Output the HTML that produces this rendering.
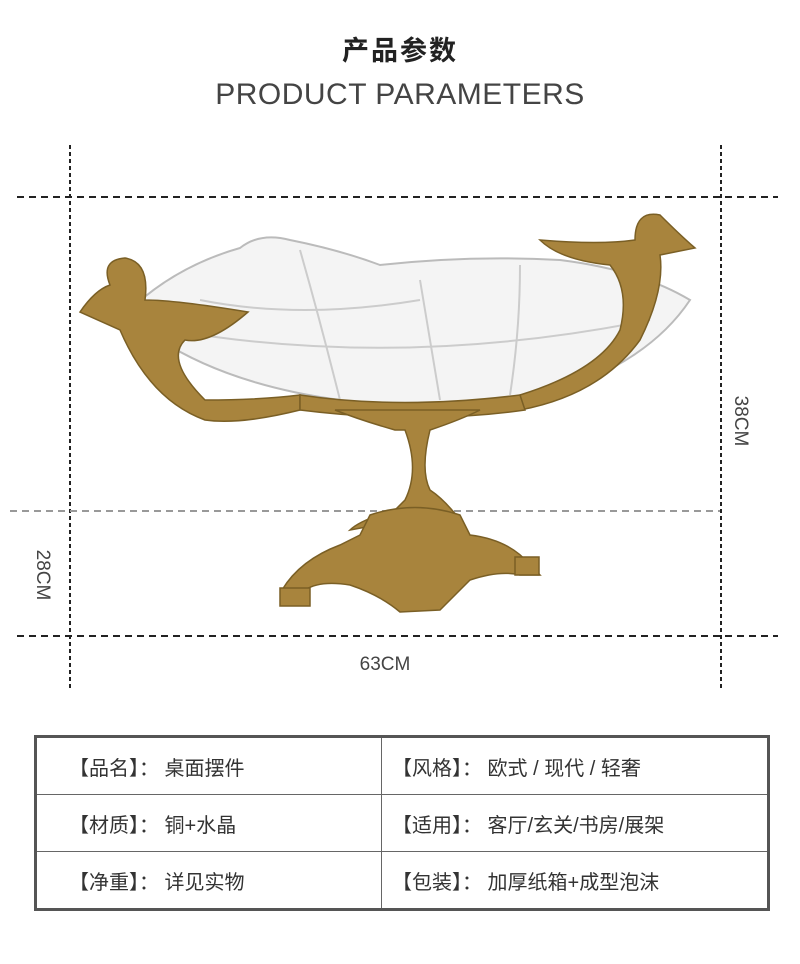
<!DOCTYPE html>
<html><head><meta charset="utf-8"><style>
body{margin:0;width:800px;height:964px;background:#fff;position:relative;overflow:hidden;font-family:"Liberation Sans","Noto Sans CJK SC",sans-serif;}
.t1{position:absolute;top:29px;left:0;width:800px;text-align:center;font-size:27px;font-weight:bold;color:#222;letter-spacing:2px}
.t2{position:absolute;top:78px;left:0;width:800px;text-align:center;font-size:30px;color:#444;letter-spacing:0.5px}
table{position:absolute;left:34px;top:735px;width:736px;height:176px;border-collapse:collapse;border:3px solid #555;table-layout:fixed}
tr{height:57px}
td{border:1.5px solid #666;font-size:20px;color:#333;padding:6px 0 0 32px;height:48px;line-height:48px}
td+td{padding-left:10px}
</style></head><body>
<div class="t1">产品参数</div>
<div class="t2">PRODUCT PARAMETERS</div>
<svg width="800" height="964" style="position:absolute;left:0;top:0">
<g stroke="#222" stroke-width="2" stroke-dasharray="4,3">
<line x1="70" y1="145" x2="70" y2="690"/><line x1="721" y1="145" x2="721" y2="690"/>
</g>
<g stroke="#222" stroke-width="2" stroke-dasharray="7,5">
<line x1="17" y1="197" x2="778" y2="197"/><line x1="17" y1="636" x2="778" y2="636"/>
</g>
<line x1="10" y1="511" x2="720" y2="511" stroke="#999" stroke-width="2" stroke-dasharray="7,5"/>
<text x="385" y="670" font-size="19" fill="#444" text-anchor="middle" font-family="Liberation Sans">63CM</text>
<text transform="translate(735,421) rotate(90)" font-size="19" fill="#444" text-anchor="middle" font-family="Liberation Sans">38CM</text>
<text transform="translate(37,575) rotate(90)" font-size="19" fill="#444" text-anchor="middle" font-family="Liberation Sans">28CM</text>
<path d="M135,305 Q180,265 240,248 Q260,232 290,240 Q340,250 380,265 Q470,255 560,260 Q640,270 690,300 Q650,360 560,390 Q450,415 340,400 Q230,385 160,340 Z" fill="#f4f4f4" stroke="#bbb" stroke-width="2"/>
<path d="M200,300 Q300,320 420,300 M300,250 Q320,320 340,400 M420,280 Q430,340 440,400 M520,265 Q520,330 510,395 M170,330 Q400,370 650,320" stroke="#ccc" stroke-width="2" fill="none"/>
<g fill="#a8843d" stroke="#7a5f25" stroke-width="1.5">
<path d="M80,312 Q95,290 110,285 Q100,260 125,258 Q150,262 145,300 Q175,300 248,312 Q210,345 185,340 Q165,360 205,400 Q260,400 300,395 L300,410 Q240,425 205,420 Q150,400 120,330 Z"/>
<path d="M695,248 Q680,235 660,215 Q635,210 635,240 Q600,245 540,240 Q560,260 610,265 Q630,290 620,330 Q600,370 520,395 L520,410 Q600,395 640,340 Q665,290 660,255 Z"/>
<path d="M300,395 Q400,410 520,395 L525,410 Q420,425 300,410 Z"/>
<path d="M335,410 Q360,420 395,430 L405,430 Q420,470 405,500 L395,510 Q360,520 350,530 Q400,520 460,520 Q445,500 430,490 Q420,470 430,430 Q460,420 480,410 Z"/>
<path d="M370,515 Q415,500 460,515 L470,535 Q510,540 530,565 L540,575 L520,575 Q500,570 470,580 Q450,600 440,610 L400,612 Q380,595 350,585 Q320,580 305,590 L300,605 L282,605 L282,590 Q300,560 340,545 L360,535 Z"/>
<rect x="280" y="588" width="30" height="18"/><rect x="515" y="557" width="24" height="18"/>
</g>
</svg>
<table>
<tr><td style="width:312px">【品名】： 桌面摆件</td><td>【风格】： 欧式 / 现代 / 轻奢</td></tr>
<tr><td>【材质】： 铜+水晶</td><td>【适用】： 客厅/玄关/书房/展架</td></tr>
<tr><td>【净重】： 详见实物</td><td>【包装】： 加厚纸箱+成型泡沫</td></tr>
</table>
</body></html>
